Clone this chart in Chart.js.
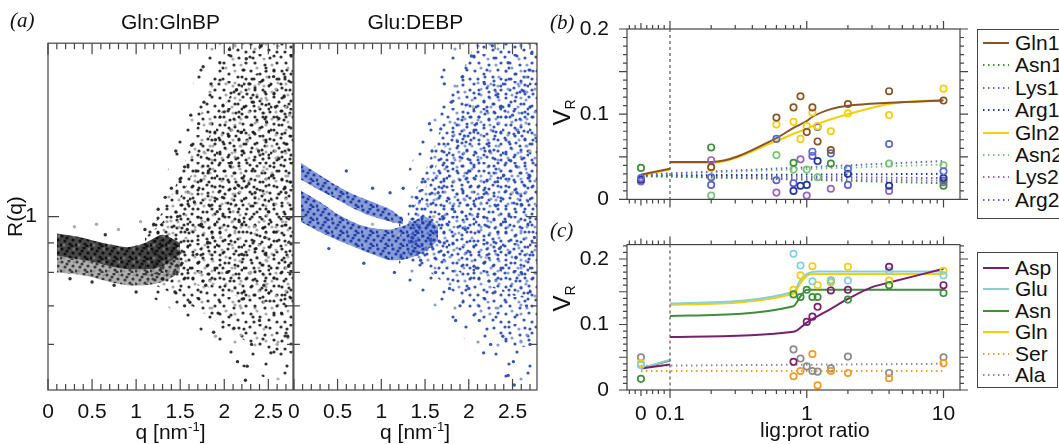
<!DOCTYPE html>
<html>
<head>
<meta charset="utf-8">
<script src="https://cdn.jsdelivr.net/npm/chart.js@4.4.1/dist/chart.umd.min.js"></script>
<style>
  body { margin: 0; background: #fff; width: 1059px; height: 444px; overflow: hidden; position: relative;
         font-family: "Liberation Sans", Arial, Helvetica, sans-serif; color: #111; }
  canvas { position: absolute; }
  .txt { position: absolute; white-space: nowrap; color: #111; }
  .panel { font-family: "Liberation Serif", "DejaVu Serif", serif; font-style: italic; font-size: 21px; }
  .vr { font-size: 24px; transform: rotate(-90deg); transform-origin: center; }
  .vr sub { font-size: 14px; }
  .qt { font-size: 21px; text-align: center; line-height: 24px; }
  .qt sup { font-size: 13px; }
  .legend { position: absolute; border: 1.5px solid #444; background: #fff; }
  .legend .row { position: absolute; left: 0; height: 22px; font-size: 21px; line-height: 22px; }
  .legend svg { position: absolute; left: 5px; top: 9px; }
  .legend span { position: absolute; left: 37px; top: 0; }
</style>
</head>
<body>
<canvas id="chartGln" width="300" height="444" style="left:0;top:0"></canvas>
<canvas id="chartGlu" width="260" height="444" style="left:286px;top:0"></canvas>
<canvas id="chartB" width="435" height="222" style="left:540px;top:0"></canvas>
<canvas id="chartC" width="435" height="222" style="left:540px;top:222px"></canvas>

<div class="txt panel" style="left:10px;top:8px">(a)</div>
<div class="txt panel" style="left:550px;top:10px">(b)</div>
<div class="txt panel" style="left:550px;top:218px">(c)</div>
<div class="txt qt" style="left:48px;top:415px;width:245px">q [nm<sup>-1</sup>]</div>
<div class="txt qt" style="left:293px;top:415px;width:244px">q [nm<sup>-1</sup>]</div>
<div class="txt vr" style="left:550px;top:97px">V<sub>R</sub></div>
<div class="txt vr" style="left:550px;top:283px">V<sub>R</sub></div>
<div class="txt" style="left:760px;top:418px;font-size:21px">lig:prot ratio</div>
<div id="legendB" class="legend" style="left:977px;top:29px;width:110px;height:188px"></div>
<div id="legendC" class="legend" style="left:977px;top:252px;width:79px;height:134px"></div>

<script>
// ---------- panel (a): R(q) clouds ----------
const qTicks = [0, 0.5, 1, 1.5, 2, 2.5];

// Gln:GlnBP dense band at low q
const glnCoreQ   = [0.1, 0.3, 0.5, 0.7, 0.9, 1.1, 1.3, 1.5];
const glnCoreHi  = [0.935, 0.925, 0.91, 0.895, 0.885, 0.90, 0.93, 0.90];
const glnCoreLo  = [0.855, 0.845, 0.835, 0.82, 0.81, 0.81, 0.82, 0.86];
const glnFringe  = [0.80, 0.795, 0.785, 0.77, 0.76, 0.76, 0.77, 0.80];
// Gln:GlnBP spread at high q
const glnCloudQ  = [1.1, 1.3, 1.5, 1.7, 1.9, 2.1, 2.3, 2.5, 2.7, 2.8];
const glnCloudHi = [0.93, 1.02, 1.18, 1.45, 1.8, 2.0, 2.0, 2.0, 2.0, 2.0];
const glnCloudLo = [0.77, 0.75, 0.72, 0.69, 0.66, 0.63, 0.60, 0.58, 0.57, 0.58];
const glnMidHi   = [0.92, 0.98, 1.08, 1.25, 1.45, 1.65, 1.75, 1.8, 1.8, 1.8];
const glnMidLo   = [0.80, 0.79, 0.78, 0.76, 0.75, 0.73, 0.72, 0.71, 0.70, 0.70];
const glnHaloQ   = [1.2, 1.4, 1.6, 1.8, 2.0, 2.2, 2.4, 2.6, 2.8];
const glnHaloHi  = [1.05, 1.25, 1.6, 2.0, 2.0, 2.0, 2.0, 2.0, 2.0];
const glnHaloLo  = [0.72, 0.69, 0.66, 0.62, 0.58, 0.55, 0.53, 0.52, 0.53];
const glnDark = [
  [1.20,0.97],[1.25,1.03],[1.30,0.78],[1.33,1.08],[1.37,0.90],[1.40,1.12],[1.44,0.74],[1.47,1.00],
  [1.50,1.15],[1.52,0.83],[1.55,1.22],[1.58,0.95],[1.61,0.71],[1.63,1.33],[1.66,1.06],[1.69,0.86],
  [1.71,1.45],[1.74,0.97],[1.77,1.58],[1.79,0.76],[1.82,1.20],[1.85,1.70],[1.87,0.92],[1.90,1.36],
  [1.93,0.68],[1.95,1.85],[1.98,1.08],[2.00,1.52],[2.03,0.80],[2.06,1.95],[2.08,1.24],[2.11,0.64],
  [2.14,1.66],[2.17,0.98],[2.19,1.40],[2.22,0.72],[2.25,1.88],[2.28,1.14],[2.31,0.60],[2.33,1.58],
  [2.36,0.88],[2.39,1.30],[2.42,1.98],[2.45,0.76],[2.48,1.46],[2.50,1.02],[2.53,0.58],[2.56,1.75],
  [2.59,0.94],[2.62,1.26],[2.65,0.68],[2.68,1.62],[2.70,1.10],[2.73,0.82],[2.76,1.90],[1.92,1.02],
  [2.05,1.38],[2.20,0.86],[2.35,1.10],[2.55,1.18],[2.40,0.66],[2.62,1.48],[2.72,0.62],[1.68,1.20],
  [1.81,0.90],[2.12,1.12],[2.28,1.70],[2.46,0.92],[2.58,1.55],[2.15,0.56],[0.25,0.78],[0.50,0.77],
  [0.75,0.76],[1.00,0.74],[0.65,0.93],[1.10,0.95],[1.76,1.82],[1.62,1.5],[1.45,1.3],[1.88,0.63],
  [2.24,0.52],[2.26,0.55],[1.55,0.7]
];
const glnLight = [
  [1.35,0.98],[1.48,0.88],[1.60,1.10],[1.72,0.80],[1.84,1.45],[1.96,0.92],[2.02,1.70],[2.10,1.02],
  [2.18,0.70],[2.26,1.35],[2.34,0.96],[2.42,1.60],[2.50,0.85],[2.58,1.30],[2.66,0.98],[2.74,1.50],
  [0.30,0.96],[0.55,0.97],[0.80,0.95],[1.05,0.98],[1.90,0.62],[2.30,0.80],[2.60,0.60],[2.44,1.20]
];

// Glu:DEBP upper branch, lower band and spread
const gluUpQ    = [0.08, 0.3, 0.5, 0.7, 0.9, 1.1, 1.25];
const gluUpHi   = [1.24, 1.18, 1.13, 1.09, 1.06, 1.03, 0.99];
const gluUpLo   = [1.16, 1.11, 1.07, 1.03, 1.0, 0.98, 0.97];
const gluLowQ   = [0.08, 0.3, 0.5, 0.7, 0.9, 1.1, 1.3, 1.5, 1.65];
const gluLowHi  = [1.11, 1.06, 1.01, 0.975, 0.955, 0.95, 0.97, 1.0, 0.96];
const gluLowLo  = [0.98, 0.94, 0.91, 0.885, 0.86, 0.84, 0.845, 0.87, 0.91];
const gluCloudQ  = [1.3, 1.5, 1.7, 1.9, 2.1, 2.3, 2.5, 2.7, 2.8];
const gluCloudHi = [1.05, 1.2, 1.45, 1.75, 2.0, 2.0, 2.0, 2.0, 2.0];
const gluCloudLo = [0.84, 0.81, 0.77, 0.72, 0.67, 0.63, 0.59, 0.60, 0.62];
const gluMidHi   = [1.0, 1.12, 1.3, 1.5, 1.65, 1.75, 1.8, 1.8, 1.8];
const gluMidLo   = [0.86, 0.85, 0.83, 0.80, 0.77, 0.75, 0.73, 0.72, 0.72];
const gluHaloQ   = [1.2, 1.4, 1.6, 1.8, 2.0, 2.2, 2.4, 2.6, 2.8];
const gluHaloHi  = [1.1, 1.3, 1.6, 2.0, 2.0, 2.0, 2.0, 2.0, 2.0];
const gluHaloLo  = [0.78, 0.74, 0.70, 0.66, 0.60, 0.56, 0.52, 0.51, 0.55];
const gluBlue = [
  [1.35,0.92],[1.40,1.08],[1.45,0.84],[1.50,1.15],[1.55,0.97],[1.58,1.30],[1.62,0.80],[1.65,1.10],
  [1.68,1.42],[1.72,0.90],[1.75,1.22],[1.78,0.75],[1.80,1.58],[1.84,1.02],[1.87,1.35],[1.90,0.70],
  [1.93,1.75],[1.96,0.95],[2.00,1.20],[2.03,1.90],[2.06,0.82],[2.09,1.45],[2.12,0.66],[2.15,1.08],
  [2.18,1.70],[2.21,0.90],[2.24,1.30],[2.27,1.98],[2.30,0.74],[2.33,1.15],[2.36,1.55],[2.39,0.62],
  [2.42,0.98],[2.45,1.85],[2.48,1.25],[2.51,0.56],[2.54,0.85],[2.57,1.40],[2.60,1.05],[2.63,1.65],
  [2.66,0.70],[2.69,1.18],[2.72,1.92],[2.75,0.92],[2.78,1.35],[1.95,1.38],[2.20,1.10],[2.40,1.18],
  [2.60,0.80],[2.10,1.00],[2.35,0.88],[2.50,1.50],[2.25,0.60],[2.45,0.53],[2.70,0.60],[1.70,1.00],
  [2.00,0.75],[2.55,1.10],[0.60,1.20],[0.90,1.12],[1.10,1.10],[0.40,0.88],[0.80,0.83],[1.15,0.80],
  [1.25,1.12],[1.55,1.45],[1.72,1.7],[1.85,0.66],[2.17,0.58],[2.52,0.51]
];
const gluGrey = [
  [1.60,1.00],[1.90,1.25],[2.20,0.85],[2.50,1.10],[2.70,1.30],[0.90,0.97],[1.20,0.93],[2.05,1.55]
];

// ---------- panel (b): V_R vs lig:prot ratio ----------
const ratioTicks = [0, 0.1, 1, 10];
const namesB  = ['Gln1', 'Asn1', 'Lys1', 'Arg1', 'Gln2', 'Asn2', 'Lys2', 'Arg2'];
const colorsB = ['#8a5526', '#3f8f3a', '#5a6cc8', '#22379a', '#f6cf0a', '#7cc377', '#9863c2', '#5d5fd6'];
const dottedB = [false, true, true, true, false, true, true, true];
const fitsB = [
  [[0,0.029],[0.1,0.036],[0.1,null],[0.1,0.044],[0.2,0.044],[0.6,0.072],[0.8,0.084],[1,0.092],[1.1,0.097],[1.5,0.106],[2,0.110],[4,0.1135],[10,0.116]],
  [[0,0.028],[10,0.019]],
  [[0,0.029],[10,0.045]],
  [[0,0.028],[10,0.030]],
  [[0,0.028],[0.1,0.035],[0.1,null],[0.1,0.043],[0.2,0.043],[0.6,0.0685],[0.8,0.077],[1,0.083],[1.1,0.086],[1.5,0.094],[2,0.100],[4,0.112],[10,0.117]],
  [[0,0.029],[10,0.041]],
  [[0,0.027],[10,0.022]],
  [[0,0.028],[10,0.025]]
];
const pointsB = [
  [[0.2,0.038],[0.6,0.096],[0.8,0.108],[0.9,0.121],[1,0.079],[1.1,0.108],[1.2,0.068],[1.5,0.058],[2,0.112],[4,0.127],[10,0.116]],
  [[0,0.037],[0.2,0.061],[0.8,0.043],[1.5,0.042],[10,0.016]],
  [[0,0.025],[0.2,0.026],[0.6,0.071],[1.1,0.056],[1.5,0.054],[2,0.036],[4,0.065],[10,0.033]],
  [[0,0.023],[0.8,0.010],[0.9,0.016],[1,0.017],[1.2,0.045],[2,0.030],[4,0.016],[10,0.025]],
  [[0.2,0.037],[0.6,0.088],[0.8,0.091],[0.9,0.071],[1,0.086],[1.1,0.102],[1.2,0.086],[1.5,0.080],[2,0.101],[4,0.099],[10,0.130]],
  [[0.2,0.0045],[0.6,0.052],[0.8,0.035],[1,0.035],[1.2,0.026],[4,0.042],[10,0.040]],
  [[0,0.021],[0.2,0.046],[0.6,0.008],[0.9,0.047],[1,0.0045],[1.5,0.0125],[4,0.010],[10,0.020]],
  [[0.2,0.017],[0.6,0.0225],[0.8,0.019],[1.1,0.051],[1.2,0.085],[2,0.017],[10,0.022]]
];

// ---------- panel (c) ----------
const namesC  = ['Asp', 'Glu', 'Asn', 'Gln', 'Ser', 'Ala'];
const colorsC = ['#7a1f6e', '#86d0dc', '#3f8f3a', '#f6cf0a', '#f59a23', '#8c8c8c'];
const dottedC = [false, false, false, false, true, true];
const fitsC = [
  [[0,0.033],[0.1,0.039],[0.1,null],[0.1,0.081],[0.8,0.089],[1,0.103],[1.5,0.124],[2,0.139],[3,0.157],[4,0.164],[10,0.185]],
  [[0,0.033],[0.1,0.046],[0.1,null],[0.1,0.132],[0.8,0.150],[0.9,0.168],[1,0.177],[1.2,0.181],[10,0.181]],
  [[0,0.033],[0.1,0.045],[0.1,null],[0.1,0.113],[0.8,0.128],[0.9,0.143],[1,0.153],[10,0.153]],
  [[0,0.033],[0.1,0.046],[0.1,null],[0.1,0.130],[0.8,0.147],[0.9,0.163],[1,0.174],[1.1,0.177],[10,0.177]],
  [[0,0.029],[10,0.029]],
  [[0,0.037],[10,0.040]]
];
const pointsC = [
  [[0.8,0.043],[1,0.104],[1.1,0.112],[1.2,0.127],[1.5,0.152],[2,0.153],[4,0.188],[10,0.160]],
  [[0,0.038],[0.8,0.208],[0.9,0.190],[1.1,0.166],[1.5,0.167],[2,0.167],[4,0.182],[10,0.175]],
  [[0,0.017],[0.8,0.146],[0.9,0.142],[1,0.153],[1.1,0.142],[1.2,0.142],[1.5,0.167],[2,0.138],[4,0.160],[10,0.148]],
  [[0,0.041],[0.8,0.153],[0.9,0.175],[1.1,0.189],[1.2,0.160],[1.5,0.164],[2,0.188],[4,0.167],[10,0.182]],
  [[0,0.039],[0.8,0.021],[0.9,0.029],[1.1,0.055],[1.2,0.007],[1.5,0.029],[2,0.026],[4,0.018],[10,0.041]],
  [[0,0.050],[0.8,0.062],[0.9,0.048],[1,0.036],[1.1,0.029],[1.2,0.028],[1.5,0.033],[2,0.051],[4,0.026],[10,0.050]]
];

Chart.defaults.font.family = '"Liberation Sans", Arial, Helvetica, sans-serif';
Chart.defaults.font.size = 21;
Chart.defaults.color = '#111';
Chart.defaults.animation = false;

// linear piece below 0.1, log10 above (broken lig:prot axis)
const SPLIT = 0.1, LIN_K = 2.125;
const brokenT = v => v <= SPLIT ? (v - SPLIT) * LIN_K : Math.log10(v / SPLIT);
const brokenInv = t => t <= 0 ? SPLIT + t / LIN_K : SPLIT * Math.pow(10, t);

class BrokenLogScale extends Chart.LinearScale {
  determineDataLimits() { this.min = this.options.min; this.max = this.options.max; }
  buildTicks() { return ratioTicks.map(v => ({ value: v })); }
  configure() { super.configure(); this._t0 = brokenT(this.min); this._t1 = brokenT(this.max); }
  getPixelForValue(v) { return this.getPixelForDecimal((brokenT(v) - this._t0) / (this._t1 - this._t0)); }
  getValueForPixel(p) { return brokenInv(this._t0 + this.getDecimalForPixel(p) * (this._t1 - this._t0)); }
}
BrokenLogScale.id = 'brokenlog';
BrokenLogScale.defaults = Chart.LinearScale.defaults;
Chart.register(BrokenLogScale);

const xy = arr => arr.map(([x, y]) => ({ x, y }));
const zipQ = (qs, rs) => qs.map((q, i) => ({ x: q, y: rs[i] }));
const steps = (a, b, d, skip) => { const out = []; for (let v = a; v <= b + 1e-9; v += d) { const r = Math.round(v * 1000) / 1000; if (!skip.some(s => Math.abs(s - r) < 1e-6)) out.push(r); } return out; };

// speckle textures for the dense clouds (fixed dot layout per tile)
const tileSparse = { w: 31, h: 27,
  dark: [[2,3],[12,1],[22,4],[29,9],[7,9],[17,11],[26,16],[3,17],[12,20],[21,23],[29,25],[6,25]],
  light: [[16,5],[9,14],[24,11],[18,17]] };
const tileMid = { w: 27, h: 23,
  dark: [[4,2],[14,5],[23,2],[9,10],[19,12],[1,15],[26,17],[12,19],[20,21]],
  light: [[6,20],[16,15],[24,8]] };
const tileHalo = { w: 43, h: 37,
  dark: [[5,6],[27,3],[16,19],[38,21],[8,31],[29,33]],
  light: [[20,9],[40,12]] };
const tileDense = { w: 15, h: 13,
  dark: [[2,2],[9,1],[13,6],[5,7],[1,11],[10,10],[7,4],[12,12]],
  light: [[4,11],[14,2]] };
function speckle(tile, dark, light, base) {
  const c = document.createElement('canvas');
  c.width = tile.w; c.height = tile.h;
  const g = c.getContext('2d');
  if (base) { g.fillStyle = base; g.fillRect(0, 0, tile.w, tile.h); }
  for (const [list, col] of [[tile.dark, dark], [tile.light, light]]) {
    g.fillStyle = col;
    for (const [x, y] of list) { g.beginPath(); g.arc(x, y, 1.6, 0, Math.PI * 2); g.fill(); }
  }
  return g.createPattern(c, 'repeat');
}

function band(qs, hi, lo, fillStyle) {
  return [
    { data: zipQ(qs, hi), fill: '+1', backgroundColor: fillStyle, borderWidth: 0, pointRadius: 0, tension: 0.25, order: 5 },
    { data: zipQ(qs, lo), fill: false, borderWidth: 0, pointRadius: 0, tension: 0.25, order: 5 }
  ];
}
function dots(arr, color) {
  return { data: xy(arr), showLine: false, pointRadius: 1.7, pointBorderWidth: 0, pointBackgroundColor: color, order: 1 };
}

// frame + ticks drawn on the scales
function frameTicks(cfg) {
  return {
    id: 'frameTicks',
    afterDatasetsDraw(chart) {
      const { ctx, chartArea: a, scales: { x, y } } = chart;
      const d = cfg.inward ? 1 : -1;
      ctx.save();
      ctx.strokeStyle = '#444';
      ctx.lineWidth = 1.2;
      ctx.strokeRect(a.left, a.top, a.right - a.left, a.bottom - a.top);
      ctx.beginPath();
      for (const [vals, len] of [[cfg.xMinor, cfg.minor], [cfg.xMid || [], cfg.mid], [cfg.xMajor, cfg.major]]) {
        for (const v of vals) {
          const px = x.getPixelForValue(v);
          ctx.moveTo(px, a.bottom); ctx.lineTo(px, a.bottom - d * len);
          ctx.moveTo(px, a.top); ctx.lineTo(px, a.top + d * len);
        }
      }
      for (const [vals, len] of [[cfg.yMinor, cfg.minor], [cfg.yMajor, cfg.major]]) {
        for (const v of vals) {
          const py = y.getPixelForValue(v);
          ctx.moveTo(a.left, py); ctx.lineTo(a.left + d * len, py);
          ctx.moveTo(a.right, py); ctx.lineTo(a.right - d * len, py);
        }
      }
      ctx.stroke();
      if (cfg.dashedAt != null) {
        const px = x.getPixelForValue(cfg.dashedAt);
        ctx.strokeStyle = '#555';
        ctx.lineWidth = 1.2;
        ctx.setLineDash([3, 3]);
        ctx.beginPath(); ctx.moveTo(px, a.top); ctx.lineTo(px, a.bottom); ctx.stroke();
      }
      ctx.restore();
    }
  };
}

const ticksA = {
  inward: true, minor: 6, major: 11,
  xMajor: qTicks, xMinor: steps(0.1, 2.7, 0.1, qTicks),
  yMajor: [1], yMinor: [0.6, 0.7, 0.8, 0.9]
};
const xMinorRatio = [-0.04, -0.02, 0.02, 0.04, 0.06, 0.08, 0.2, 0.3, 0.4, 0.5, 0.6, 0.7, 0.8, 0.9, 2, 3, 4, 5, 6, 7, 8, 9];

function panelA(id, title, sets, padRight, yWidth, showY) {
  return new Chart(document.getElementById(id), {
    type: 'line',
    data: { datasets: sets },
    options: {
      responsive: false, events: [],
      layout: { padding: { left: 0, right: padRight, top: 0, bottom: 0 } },
      plugins: {
        legend: { display: false }, tooltip: { enabled: false },
        title: { display: true, text: title, fullSize: false, font: { size: 21, weight: 'normal' }, padding: { top: 11, bottom: 7 } }
      },
      scales: {
        x: {
          type: 'linear', min: 0, max: 2.78,
          grid: { display: false }, border: { display: false },
          afterBuildTicks: s => { s.ticks = qTicks.map(v => ({ value: v })); },
          ticks: { padding: 2, autoSkip: false, maxRotation: 0, callback: v => String(v) },
          afterFit: s => { s.height = 54; }
        },
        y: {
          type: 'logarithmic', min: 0.5, max: 2,
          grid: { display: false }, border: { display: false },
          afterBuildTicks: s => { s.ticks = [{ value: 1 }]; },
          ticks: { display: showY, padding: 3, callback: v => String(v) },
          title: { display: showY, text: 'R(q)', font: { size: 21 }, padding: { top: 4, bottom: 0 } },
          afterFit: s => { s.width = yWidth; }
        }
      }
    },
    plugins: [frameTicks(ticksA)]
  });
}

const greyDark = 'rgba(28,28,28,0.9)', greyLight = 'rgba(165,165,165,0.95)';
const blueDark = 'rgba(40,72,175,0.92)', blueLight = 'rgba(120,145,215,0.9)';

panelA('chartGln', 'Gln:GlnBP', [
  dots(glnDark, greyDark),
  dots(glnLight, greyLight),
  ...band(glnCoreQ, glnCoreHi, glnCoreLo, speckle(tileDense, 'rgba(10,10,10,0.9)', 'rgba(120,120,120,0.9)', 'rgba(45,45,45,0.88)')),
  ...band(glnCoreQ, glnCoreLo, glnFringe, speckle(tileDense, 'rgba(40,40,40,0.85)', 'rgba(150,150,150,0.9)', 'rgba(95,95,95,0.5)')),
  ...band(glnCloudQ, glnMidHi, glnMidLo, speckle(tileMid, greyDark, greyLight)),
  ...band(glnCloudQ, glnCloudHi, glnCloudLo, speckle(tileSparse, greyDark, greyLight)),
  ...band(glnHaloQ, glnHaloHi, glnHaloLo, speckle(tileHalo, greyDark, greyLight))
], 7, 48, true);

const blueCore = speckle(tileDense, 'rgba(30,58,160,0.95)', 'rgba(150,170,225,0.9)', 'rgba(60,92,190,0.62)');
panelA('chartGlu', 'Glu:DEBP', [
  dots(gluBlue, blueDark),
  dots(gluGrey, 'rgba(175,175,175,0.95)'),
  ...band(gluUpQ, gluUpHi, gluUpLo, blueCore),
  ...band(gluLowQ, gluLowHi, gluLowLo, blueCore),
  ...band(gluCloudQ, gluMidHi, gluMidLo, speckle(tileMid, blueDark, blueLight)),
  ...band(gluCloudQ, gluCloudHi, gluCloudLo, speckle(tileSparse, blueDark, blueLight)),
  ...band(gluHaloQ, gluHaloHi, gluHaloLo, speckle(tileHalo, blueDark, blueLight))
], 9, 7, false);

function ratioSets(names, colors, dotted, fits, points) {
  const sets = [];
  names.forEach((n, i) => {
    sets.push({
      label: n, data: xy(fits[i]), showLine: true, spanGaps: false, pointRadius: 0,
      borderColor: colors[i], borderWidth: 2, borderDash: dotted[i] ? [1.5, 3.5] : [],
      cubicInterpolationMode: 'monotone', fill: false, order: 2
    });
    sets.push({
      label: n + ' data', data: xy(points[i]), showLine: false, pointRadius: 3.2,
      pointBorderWidth: 1.7, pointBorderColor: colors[i], pointBackgroundColor: 'rgba(255,255,255,0)', order: 1
    });
  });
  return sets;
}

function panelRatio(id, sets, yMax, padTop, xHeight, showX) {
  const yTicks = [0, 0.1, 0.2];
  return new Chart(document.getElementById(id), {
    type: 'line',
    data: { datasets: sets },
    options: {
      responsive: false, events: [],
      layout: { padding: { left: 0, right: 15, top: padTop, bottom: 0 } },
      plugins: { legend: { display: false }, tooltip: { enabled: false } },
      scales: {
        x: {
          type: 'brokenlog', min: -0.048, max: 13.2,
          grid: { display: false }, border: { display: false },
          ticks: { display: showX, padding: 4, autoSkip: false, maxRotation: 0, callback: v => String(v) },
          afterFit: s => { s.height = xHeight; }
        },
        y: {
          type: 'linear', min: 0, max: yMax,
          grid: { display: false }, border: { display: false },
          afterBuildTicks: s => { s.ticks = yTicks.map(v => ({ value: v })); },
          ticks: { padding: 10, callback: v => v === 0 ? '0' : v.toFixed(1) },
          afterFit: s => { s.width = 87; }
        }
      }
    },
    plugins: [frameTicks({
      inward: false, minor: 4, mid: 6, major: 8,
      xMajor: [0.1, 1, 10], xMid: [0], xMinor: xMinorRatio,
      yMajor: steps(0, yMax, 0.05, []), yMinor: steps(0.01, yMax, 0.01, steps(0, yMax, 0.05, [])),
      dashedAt: 0.1
    })]
  });
}

panelRatio('chartB', ratioSets(namesB, colorsB, dottedB, fitsB, pointsB), 0.2, 29, 15, false);
panelRatio('chartC', ratioSets(namesC, colorsC, dottedC, fitsC, pointsC), 0.222, 7, 54, true);

function buildLegend(el, names, colors, dotted, first, gap) {
  el.innerHTML = names.map((n, i) =>
    `<div class="row" style="top:${first + i * gap - 11}px;width:100%">` +
    `<svg width="26" height="4"><line x1="0" y1="2" x2="26" y2="2" stroke="${colors[i]}" stroke-width="2"` +
    (dotted[i] ? ' stroke-dasharray="1.5 3.5"' : '') + `/></svg><span>${n}</span></div>`
  ).join('');
}
buildLegend(document.getElementById('legendB'), namesB, colorsB, dottedB, 13, 22.4);
buildLegend(document.getElementById('legendC'), namesC, colorsC, dottedC, 15, 21.4);
</script>
</body>
</html>
